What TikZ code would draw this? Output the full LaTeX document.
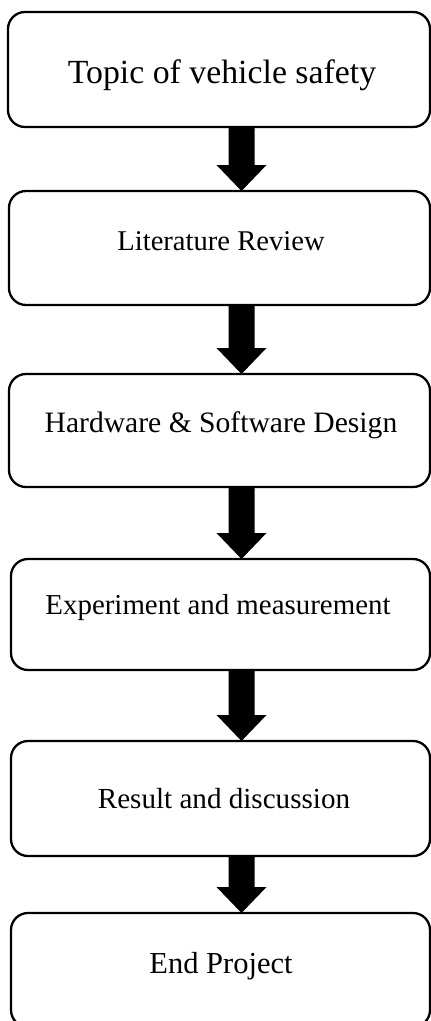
\documentclass[tikz,border=0pt]{standalone}
\usepackage{fontspec}
\setmainfont{Liberation Serif}
\usetikzlibrary{calc}
\newcommand\flowarrow[2]{%
  \path (#1.south -| ax) coordinate (s) (#2.north -| ax) coordinate (e);
  \fill[black] ($(s)+(-13,0)$) -- ($(e)+(-13,-26)$) -- ($(e)+(-25,-26)$) -- (e)
    -- ($(e)+(25,-26)$) -- ($(e)+(13,-26)$) -- ($(s)+(13,0)$) -- cycle;}
\begin{document}
\begin{tikzpicture}[x=1pt,y=-1pt,
  stepbox/.style={draw=black, line width=2.3pt, rounded corners=17pt, inner sep=0pt, outer sep=0pt},
  boxtext/.style={anchor=base, inner sep=0pt, font=\fontsize{29}{34}\selectfont}]
\useasboundingbox (0,0) rectangle (431,1021);
\coordinate (ax) at (241.5,0);
\node[stepbox, minimum width=422pt, minimum height=115pt] (b1) at (219,69.5) {};
\node[stepbox, minimum width=421pt, minimum height=114pt] (b2) at (219.5,248) {};
\node[stepbox, minimum width=421pt, minimum height=113pt] (b3) at (219.5,430.5) {};
\node[stepbox, minimum width=419pt, minimum height=111pt] (b4) at (220.5,614.5) {};
\node[stepbox, minimum width=419pt, minimum height=115pt] (b5) at (220.5,798.5) {};
\node[stepbox, minimum width=419pt, minimum height=114pt] (b6) at (220.5,970) {};
\node[boxtext, font=\fontsize{33.8}{40}\selectfont] (t1) at (222,83) {Topic of vehicle safety};
\node[boxtext, font=\fontsize{28.6}{34}\selectfont] (t2) at (221,250) {Literature Review};
\node[boxtext, font=\fontsize{29.6}{35}\selectfont] (t3) at (221,432) {Hardware \& Software Design};
\node[boxtext, font=\fontsize{28.9}{34}\selectfont] (t4) at (218,614) {Experiment and measurement};
\node[boxtext, font=\fontsize{29.1}{34}\selectfont] (t5) at (224,808) {Result and discussion};
\node[boxtext, font=\fontsize{30.5}{36}\selectfont] (t6) at (221,973) {End Project};
\flowarrow{b1}{b2}
\flowarrow{b2}{b3}
\flowarrow{b3}{b4}
\flowarrow{b4}{b5}
\flowarrow{b5}{b6}
\end{tikzpicture}
\end{document}
